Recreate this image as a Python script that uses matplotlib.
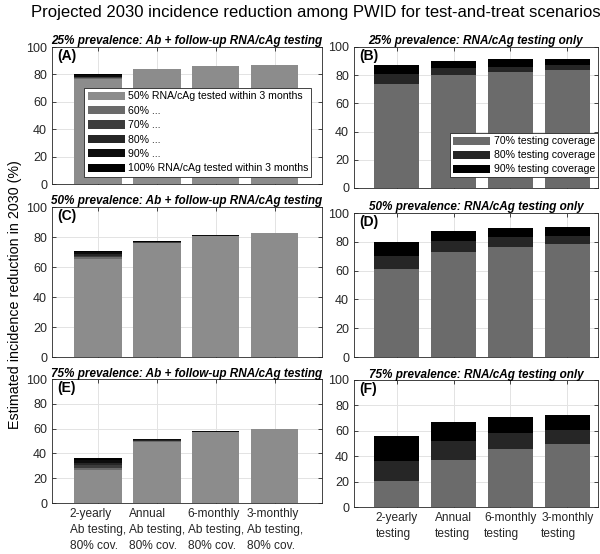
import numpy as np
import matplotlib
matplotlib.use('Agg')
import matplotlib.pyplot as plt

plt.rcParams['font.family'] = ['Liberation Sans', 'DejaVu Sans']

# cumulative bar heights (%) for each RNA/cAg follow-up level: 50,60,70,80,90,100%
ab_a = [[76.5, 83.8, 85.8, 86.9],
        [77.4, 84.0, 85.9, 87.0],
        [77.9, 84.1, 86.0, 87.1],
        [78.4, 84.2, 86.1, 87.1],
        [79.3, 84.3, 86.2, 87.2],
        [80.1, 84.3, 86.2, 87.2]]
ab_c = [[65.3, 76.0, 80.7, 82.6],
        [66.5, 76.3, 80.8, 82.7],
        [67.6, 76.5, 80.9, 82.7],
        [68.7, 76.7, 81.0, 82.8],
        [69.7, 76.9, 81.1, 82.8],
        [70.5, 77.0, 81.2, 82.8]]
ab_e = [[26.5, 49.0, 57.2, 59.8],
        [28.5, 49.8, 57.4, 59.9],
        [30.5, 50.4, 57.5, 59.9],
        [32.5, 50.9, 57.6, 60.0],
        [34.5, 51.4, 57.7, 60.0],
        [36.0, 51.8, 57.8, 60.0]]

# cumulative heights (%) for 70, 80, 90% testing coverage
rna_b = [[74.1, 79.9, 82.2, 83.8],
         [80.8, 84.9, 86.1, 87.5],
         [87.3, 90.3, 91.2, 91.4]]
rna_d = [[61.3, 72.9, 76.6, 78.5],
         [70.4, 80.3, 83.1, 84.3],
         [80.1, 87.7, 89.4, 90.0]]
rna_f = [[20.4, 37.3, 45.7, 49.9],
         [36.6, 51.7, 58.2, 60.8],
         [55.6, 66.8, 70.8, 72.6]]

ab_labels = ['50% RNA/cAg tested within 3 months', '60% ...', '70% ...',
             '80% ...', '90% ...', '100% RNA/cAg tested within 3 months']
rna_labels = ['70% testing coverage', '80% testing coverage', '90% testing coverage']
ab_ticks = ['2-yearly\nAb testing,\n80% cov.', 'Annual\nAb testing,\n80% cov.',
            '6-monthly\nAb testing,\n80% cov.', '3-monthly\nAb testing,\n80% cov.']
rna_ticks = ['2-yearly\ntesting', 'Annual\ntesting', '6-monthly\ntesting', '3-monthly\ntesting']

ab_titles = ['25% prevalence: Ab + follow-up RNA/cAg testing',
             '50% prevalence: Ab + follow-up RNA/cAg testing',
             '75% prevalence: Ab + follow-up RNA/cAg testing']
rna_titles = ['25% prevalence: RNA/cAg testing only',
              '50% prevalence: RNA/cAg testing only',
              '75% prevalence: RNA/cAg testing only']

ab_colors = ['#8c8c8c', '#6a6a6a', '#3c3c3c', '#262626', '#0c0c0c', '#000000']
rna_colors = ['#6b6b6b', '#262626', '#000000']

W, H = 600, 554
fig = plt.figure(figsize=(W / 100, H / 100), dpi=100)


def px_axes(l, r, t, b):
    return fig.add_axes([l / W, 1 - b / H, (r - l) / W, (b - t) / H])


def stacked(ax, cum, colors, labels):
    cum = np.array(cum)
    x = np.arange(1, cum.shape[1] + 1)
    bottom = np.zeros(cum.shape[1])
    handles = []
    for row, c, lab in zip(cum, colors, labels):
        h = ax.bar(x, row - bottom, 0.8, bottom=bottom, color=c, label=lab,
                   linewidth=0, zorder=2)
        handles.append(h)
        bottom = row
    return handles


def style(ax, letter, title, xlim):
    ax.set_ylim(0, 100)
    ax.set_xlim(*xlim)
    ax.set_yticks([0, 20, 40, 60, 80, 100])
    ax.set_xticks([1, 2, 3, 4])
    ax.grid(True, color='#e3e3e3', linewidth=0.7, zorder=0)
    ax.set_axisbelow(True)
    ax.tick_params(direction='in', top=True, right=True, length=3,
                   labelsize=9, colors='#262626', width=0.6)
    ax.tick_params(axis='x', labelsize=8.6)
    for s in ax.spines.values():
        s.set_color('#262626')
        s.set_linewidth(0.6)
    ax.set_title(title, fontsize=8.5, fontweight='bold', style='italic', pad=1.5)
    ax.text(0.02, 0.985, letter, transform=ax.transAxes, fontsize=10,
            fontweight='bold', va='top', ha='left')


def add_legend(ax, handles, **kw):
    leg = ax.legend(handles=handles, fontsize=7.6, fancybox=False, edgecolor='#262626',
                    framealpha=1, handlelength=3.5, handleheight=0.8,
                    borderpad=0.3, handletextpad=0.3, borderaxespad=0, **kw)
    leg.get_frame().set_linewidth(0.6)


left_pos = [(52, 322, 47, 184), (52, 322, 207, 357), (52, 322, 379, 503)]
right_pos = [(354, 598, 47, 188), (354, 598, 213, 357), (354, 598, 380, 507)]

for i, (data, title) in enumerate(zip([ab_a, ab_c, ab_e], ab_titles)):
    ax = px_axes(*left_pos[i])
    handles = stacked(ax, data, ab_colors, ab_labels)
    style(ax, '(' + 'ACE'[i] + ')', title, (0.22, 4.8))
    if i == 2:
        ax.set_xticklabels(ab_ticks, multialignment='left', linespacing=1.45)
    else:
        ax.set_xticklabels([])
    if i == 0:
        add_legend(ax, handles, loc='upper left', bbox_to_anchor=(0.12, 0.70),
                   labelspacing=0.42)

for i, (data, title) in enumerate(zip([rna_b, rna_d, rna_f], rna_titles)):
    ax = px_axes(*right_pos[i])
    handles = stacked(ax, data, rna_colors, rna_labels)
    style(ax, '(' + 'BDF'[i] + ')', title, (0.25, 4.54))
    if i == 2:
        ax.set_xticklabels(rna_ticks, multialignment='left', linespacing=1.45)
    else:
        ax.set_xticklabels([])
    if i == 0:
        add_legend(ax, handles, loc='lower right', bbox_to_anchor=(1.0, 0.075),
                   labelspacing=0.38)

fig.text(316 / W, 1 - 12 / H, 'Projected 2030 incidence reduction among PWID for test-and-treat scenarios',
         ha='center', va='center', fontsize=12)
fig.text(15 / W, 1 - 295 / H, 'Estimated incidence reduction in 2030 (%)',
         rotation=90, ha='center', va='center', fontsize=10.3)

fig.savefig('out.png', dpi=100)
